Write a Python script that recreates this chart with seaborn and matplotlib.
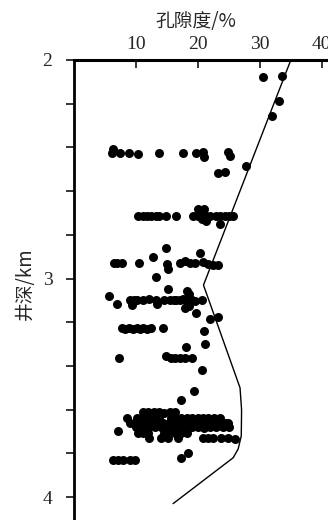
import numpy as np
import pandas as pd
import matplotlib
matplotlib.use('Agg')
import matplotlib.pyplot as plt
import seaborn as sns
from matplotlib.ticker import MultipleLocator

# porosity (%) and well depth (km), grouped in bands
top_por = [30.5, 33.6, 33.1, 32.0, 27.7]
top_dep = [2.076, 2.073, 2.188, 2.256, 2.485]

band242_por = [6.1, 6.3, 7.5, 8.9, 10.3, 13.8, 17.6, 19.7, 20.8, 21.0, 24.9, 25.2, 23.3, 24.4]
band242_dep = [2.426, 2.409, 2.424, 2.424, 2.428, 2.424, 2.424, 2.424, 2.422, 2.445, 2.420, 2.440, 2.519, 2.514]

band271_por = [10.4, 11.1, 11.8, 12.5, 13.2, 13.8, 14.9, 16.5,
               19.2, 20.0, 20.6, 21.0, 21.3, 21.9, 23.0, 23.5, 24.4, 25.0, 25.7,
               20.0, 21.0, 21.3, 23.5, 20.6]
band271_dep = [2.714, 2.716, 2.714, 2.712, 2.716, 2.714, 2.714, 2.712,
               2.714, 2.716, 2.712, 2.714, 2.716, 2.714, 2.714, 2.716, 2.714, 2.712, 2.714,
               2.684, 2.680, 2.737, 2.752, 2.728]

band293_por = [6.5, 7.0, 7.7, 10.5, 12.7, 14.8, 15.0, 15.2, 17.1, 17.9, 18.7, 19.5,
               20.3, 20.9, 21.7, 22.5, 23.3, 13.2]
band293_dep = [2.930, 2.930, 2.930, 2.930, 2.900, 2.859, 2.935, 2.955, 2.930, 2.920, 2.930, 2.930,
               2.885, 2.925, 2.935, 2.940, 2.940, 2.995]

band310_por = [15.1, 5.6, 6.9, 9.1, 9.7, 10.1, 11.1, 12.1, 13.2, 13.4, 14.6, 15.5, 16.2, 16.5,
               17.1, 17.6, 17.9, 18.2, 18.4, 18.7, 19.0, 19.5, 20.6,
               9.3, 18.2, 18.5, 17.9, 18.5, 19.7, 21.9, 23.3]
band310_dep = [3.048, 3.080, 3.117, 3.100, 3.098, 3.100, 3.096, 3.094, 3.100, 3.117, 3.098, 3.100, 3.096, 3.100,
               3.098, 3.094, 3.100, 3.096, 3.102, 3.098, 3.100, 3.104, 3.100,
               3.120, 3.056, 3.070, 3.136, 3.125, 3.160, 3.185, 3.175]

band323_por = [7.7, 8.2, 8.9, 9.6, 10.1, 10.6, 11.2, 11.8, 12.5, 14.3, 21.0, 21.1, 18.1]
band323_dep = [3.228, 3.230, 3.226, 3.230, 3.228, 3.232, 3.228, 3.230, 3.228, 3.228, 3.240, 3.300, 3.312]

band336_por = [7.3, 14.9, 15.6, 16.3, 17.1, 17.9, 19.1, 20.6, 19.4, 17.2]
band336_dep = [3.362, 3.355, 3.362, 3.364, 3.362, 3.364, 3.362, 3.419, 3.513, 3.556]

band365_por = [11.1, 12.0, 12.9, 13.8, 14.6, 15.5, 16.3,
               8.5, 10.2, 11.1, 12.0, 12.9, 13.8, 15.6, 16.5, 17.3, 18.2, 19.1, 20.0, 20.9, 21.7, 22.6, 23.5,
               9.0, 9.9, 10.8, 11.7, 12.6, 13.5, 14.4, 15.3, 16.2, 17.1, 18.0, 18.9, 19.8, 20.7, 21.6, 22.5,
               23.4, 24.3, 24.8,
               10.0, 11.0, 12.0, 13.0, 14.0, 15.0, 16.0, 17.0, 18.0, 19.0, 20.0, 21.0, 22.0, 23.0, 24.0, 25.0,
               7.1, 10.3, 11.2, 12.0, 14.5, 15.4, 16.3, 17.2, 18.3,
               12.1, 14.1, 15.2, 16.8, 20.9, 21.7, 22.5, 23.8, 24.9, 26.0]
band365_dep = [3.613, 3.613, 3.611, 3.613, 3.615, 3.613, 3.613,
               3.638, 3.638, 3.638, 3.636, 3.638, 3.640, 3.638, 3.638, 3.636, 3.638, 3.640, 3.638, 3.638,
               3.636, 3.638, 3.640,
               3.660, 3.660, 3.662, 3.660, 3.658, 3.660, 3.662, 3.660, 3.660, 3.658, 3.660, 3.662, 3.660,
               3.660, 3.658, 3.660, 3.660, 3.662, 3.660,
               3.680, 3.680, 3.682, 3.680, 3.678, 3.680, 3.682, 3.680, 3.680, 3.678, 3.680, 3.682, 3.680,
               3.680, 3.678, 3.680,
               3.696, 3.707, 3.707, 3.705, 3.707, 3.709, 3.707, 3.707, 3.705,
               3.731, 3.731, 3.731, 3.731, 3.731, 3.731, 3.729, 3.731, 3.731, 3.733]

band383_por = [6.3, 7.1, 7.9, 9.0, 9.8, 17.3, 18.4]
band383_dep = [3.830, 3.830, 3.830, 3.830, 3.830, 3.820, 3.800]

# trend line
trend_por = [35.0, 20.9, 26.8, 27.05, 27.0, 26.5, 25.7, 16.0]
trend_dep = [2.0, 3.03, 3.50, 3.60, 3.72, 3.78, 3.82, 4.03]

x_ticks = [10, 20, 30, 40]
y_ticks = [2, 3, 4]

df = pd.DataFrame({
    'por': top_por + band242_por + band271_por + band293_por + band310_por
           + band323_por + band336_por + band365_por + band383_por,
    'dep': top_dep + band242_dep + band271_dep + band293_dep + band310_dep
           + band323_dep + band336_dep + band365_dep + band383_dep,
})

sns.set_style('white')
plt.rcParams['font.family'] = ['Liberation Serif', 'DejaVu Sans']

fig = plt.figure(figsize=(3.28, 5.2), dpi=100)
ax = fig.add_axes([74 / 328, 0, 254 / 328, 460 / 520])

sns.scatterplot(data=df, x='por', y='dep', color='black', s=42, linewidth=0, ax=ax, zorder=3)
sns.lineplot(x=trend_por, y=trend_dep, sort=False, estimator=None, color='black', linewidth=1.0, ax=ax)

ax.set_xlim(0, 41)
ax.set_ylim(4.105, 2.0)

# x axis on top, ticks inward
ax.xaxis.tick_top()
ax.set_xticks(x_ticks)
ax.set_xticklabels([str(t) for t in x_ticks], fontsize=14)
ax.tick_params(axis='x', direction='in', length=6, width=1.3, pad=5, top=True, bottom=False)

ax.set_yticks(y_ticks)
ax.set_yticklabels([str(t) for t in y_ticks], fontsize=14)
ax.yaxis.set_minor_locator(MultipleLocator(0.2))
ax.tick_params(axis='y', which='both', direction='out', length=5.5, width=1.3, pad=10, left=True)

ax.set_xlabel('')
ax.set_ylabel('')
for side in ['right', 'bottom']:
    ax.spines[side].set_visible(False)
ax.spines['left'].set_linewidth(2.0)
ax.spines['top'].set_linewidth(2.2)
ax.spines['left'].set_color('black')
ax.spines['top'].set_color('black')

fig.text(196 / 328, 1 - 21 / 520, '孔隙度/%', ha='center', va='center', fontsize=13.5,
         family=['Noto Sans CJK SC', 'DejaVu Sans'])
fig.text(25 / 328, 1 - 284 / 520, '井深/km', ha='center', va='center', fontsize=13.5, rotation=90,
         family=['Noto Sans CJK SC', 'DejaVu Sans'])

fig.savefig('out.png', dpi=100)
